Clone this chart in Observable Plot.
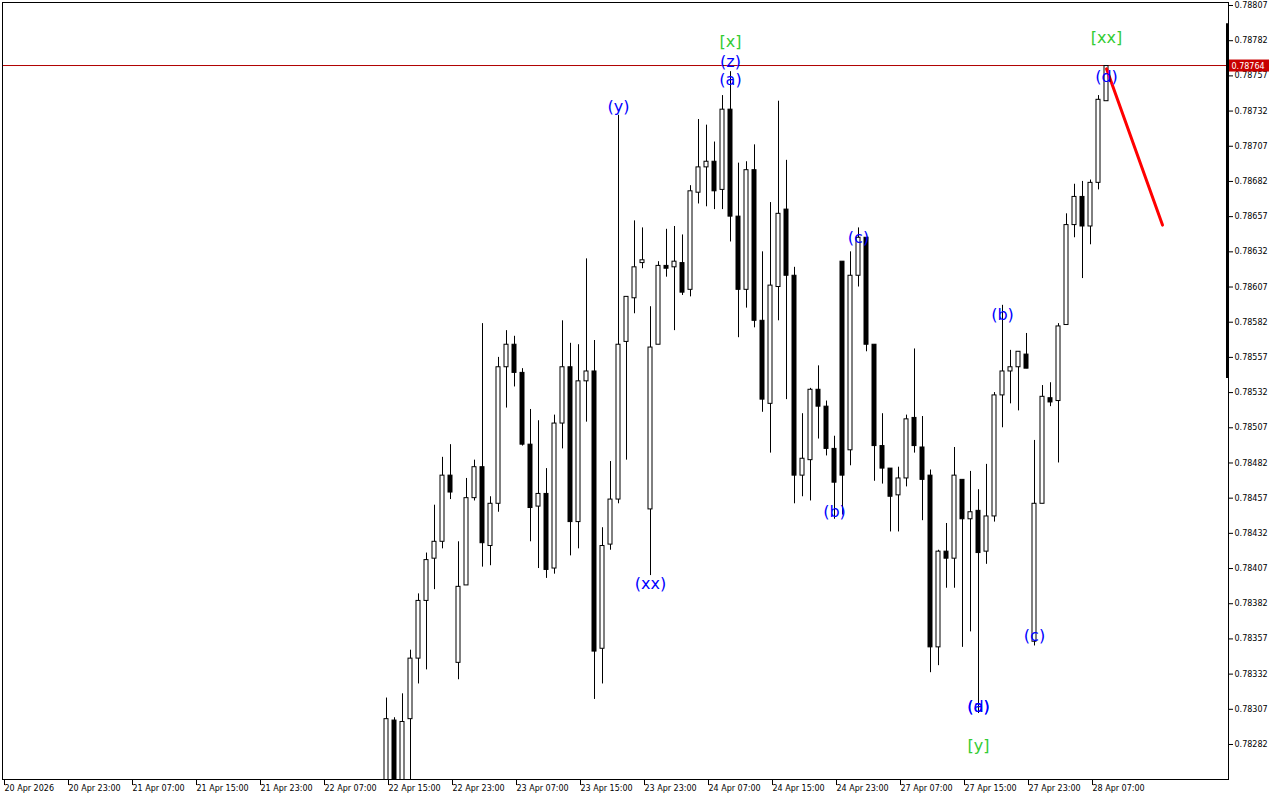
<!DOCTYPE html>
<html><head><meta charset="utf-8">
<script src="https://cdn.jsdelivr.net/npm/d3@7"></script>
<script src="https://cdn.jsdelivr.net/npm/@observablehq/plot@0.6"></script>
<style>html,body{margin:0;padding:0;background:#fff;overflow:hidden}#chart{width:1280px;height:800px}</style>
</head><body><div id="chart"></div>
<script>
// ---- data (hourly bars; bar index counted from the first x-axis label) ----
const firstBar = 48;
const open = [0.78245,0.78299,0.78244,0.78300,0.78343,0.78384,0.78414,0.78426,0.78473,0.78340,
0.78395,0.78457,0.78479,0.78423,0.78453,0.78550,0.78566,0.78546,0.78495,0.78451,
0.78460,0.78407,0.78510,0.78550,0.78440,0.78540,0.78547,0.78350,0.78424,0.78456,
0.78568,0.78599,0.78624,0.78449,0.78566,0.78622,0.78621,0.78624,0.78605,0.78674,
0.78692,0.78696,0.78676,0.78733,0.78657,0.78605,0.78690,0.78583,0.78524,0.78607,
0.78662,0.78615,0.78473,0.78484,0.78534,0.78522,0.78492,0.78625,0.78491,0.78615,
0.78642,0.78566,0.78494,0.78478,0.78459,0.78471,0.78514,0.78493,0.78473,0.78351,
0.78419,0.78414,0.78470,0.78442,0.78448,0.78419,0.78444,0.78530,0.78547,0.78550,
0.78559,0.78355,0.78453,0.78528,0.78526,0.78580,0.78651,0.78671,0.78650,0.78681,
0.78739];
const high = [0.78315,0.78301,0.78318,0.78349,0.78389,0.78418,0.78452,0.78486,0.78495,0.78426,
0.78471,0.78484,0.78581,0.78458,0.78557,0.78576,0.78572,0.78549,0.78520,0.78512,
0.78478,0.78516,0.78583,0.78567,0.78566,0.78627,0.78569,0.78436,0.78483,0.78729,
0.78600,0.78654,0.78649,0.78593,0.78625,0.78648,0.78650,0.78644,0.78679,0.78726,
0.78722,0.78710,0.78743,0.78760,0.78695,0.78696,0.78708,0.78632,0.78667,0.78739,
0.78697,0.78621,0.78517,0.78535,0.78551,0.78526,0.78501,0.78625,0.78632,0.78649,
0.78642,0.78566,0.78517,0.78478,0.78479,0.78516,0.78563,0.78515,0.78477,0.78420,
0.78439,0.78493,0.78470,0.78476,0.78463,0.78481,0.78532,0.78594,0.78562,0.78561,
0.78574,0.78498,0.78537,0.78539,0.78581,0.78659,0.78680,0.78682,0.78683,0.78743,
0.78764];
const low = [0.78238,0.78232,0.78236,0.78252,0.78325,0.78335,0.78392,0.78421,0.78456,0.78328,
0.78395,0.78455,0.78408,0.78409,0.78447,0.78521,0.78536,0.78494,0.78426,0.78407,
0.78400,0.78403,0.78492,0.78416,0.78421,0.78511,0.78314,0.78325,0.78420,0.78453,
0.78484,0.78588,0.78620,0.78402,0.78566,0.78614,0.78576,0.78601,0.78600,0.78666,
0.78664,0.78662,0.78662,0.78639,0.78571,0.78592,0.78578,0.78518,0.78489,0.78583,
0.78527,0.78453,0.78458,0.78455,0.78499,0.78487,0.78442,0.78445,0.78480,0.78607,
0.78561,0.78469,0.78467,0.78433,0.78433,0.78465,0.78489,0.78441,0.78333,0.78338,
0.78393,0.78393,0.78351,0.78362,0.78304,0.78410,0.78440,0.78507,0.78524,0.78519,
0.78549,0.78352,0.78453,0.78522,0.78482,0.78580,0.78642,0.78613,0.78637,0.78676,
0.78739];
const close = [0.78300,0.78240,0.78298,0.78343,0.78384,0.78413,0.78426,0.78473,0.78461,0.78394,
0.78457,0.78479,0.78425,0.78453,0.78550,0.78566,0.78546,0.78495,0.78450,0.78460,
0.78406,0.78510,0.78550,0.78440,0.78540,0.78547,0.78348,0.78423,0.78456,0.78566,
0.78600,0.78621,0.78626,0.78564,0.78622,0.78620,0.78625,0.78603,0.78675,0.78692,
0.78696,0.78675,0.78733,0.78657,0.78605,0.78690,0.78583,0.78527,0.78608,0.78659,
0.78615,0.78473,0.78485,0.78534,0.78522,0.78492,0.78468,0.78473,0.78615,0.78642,
0.78566,0.78494,0.78478,0.78458,0.78471,0.78513,0.78494,0.78470,0.78351,0.78419,
0.78414,0.78473,0.78442,0.78447,0.78418,0.78444,0.78530,0.78547,0.78550,0.78561,
0.78549,0.78453,0.78529,0.78525,0.78579,0.78651,0.78671,0.78650,0.78681,0.78740,
0.78764];

const xTickBars = [0,8,16,24,32,40,48,56,64,72,80,88,96,104,112,120,128,136];
const xTickLabels = ["20 Apr 2026","20 Apr 23:00","21 Apr 07:00","21 Apr 15:00","21 Apr 23:00",
"22 Apr 07:00","22 Apr 15:00","22 Apr 23:00","23 Apr 07:00","23 Apr 15:00","23 Apr 23:00",
"24 Apr 07:00","24 Apr 15:00","24 Apr 23:00","27 Apr 07:00","27 Apr 15:00","27 Apr 23:00","28 Apr 07:00"];
const yTicks = [0.78282,0.78307,0.78332,0.78357,0.78382,0.78407,0.78432,0.78457,0.78482,0.78507,
0.78532,0.78557,0.78582,0.78607,0.78632,0.78657,0.78682,0.78707,0.78732,0.78757,0.78782,0.78807];

const lastPrice = 0.78764;
const forecastBars = [138, 145];
const forecastPrices = [0.78762, 0.78651];
const scaleBarRange = [0.78542, 0.78794];

const waveText   = ["(y)","(xx)","[x]","(z)","(a)","(b)","(c)","(a)","(d)","[y]","(b)","(c)","[xx]","(d)"];
const waveBar    = [77, 81, 91, 91, 91, 104, 107, 122, 122, 122, 125, 129, 138, 138];
const wavePrice  = [0.78735,0.78396,0.78781,0.78767,0.78754,0.78447,0.78642,0.78309,0.78309,0.78281,0.78587,0.78359,0.78784,0.78756];
const waveDegree = ["minor","minor","major","minor","minor","minor","minor","minor","minor","major","minor","minor","major","minor"];

// ---- build ----
const candles = open.map((o, k) => ({i: firstBar + k, open: o, high: high[k], low: low[k], close: close[k]}));
const up = candles.filter(d => d.close >= d.open);
const down = candles.filter(d => d.close < d.open);
const waves = waveText.map((t, k) => ({t, i: waveBar[k], p: wavePrice[k], deg: waveDegree[k]}));
const forecast = forecastBars.map((b, k) => ({i: b, p: forecastPrices[k]}));

const W = 1280, H = 800, mL = 2, mR = 52, mT = 2, mB = 21;
const pxPerBar = 8;
const pxPerPrice = 35.19 / 0.00025;
const topTick = yTicks[yTicks.length - 1];
const yDomain = [topTick - (H - mB - 5) / pxPerPrice, topTick + (5 - mT) / pxPerPrice];
const xDomain = [0, (W - mL - mR) / pxPerBar];
const labelOf = new Map(xTickBars.map((b, k) => [b, xTickLabels[k]]));
const halfBody = 0.25;
// price tag box on the price scale (sizes in px converted through the scales' units)
const tag = [{x1: xDomain[1] + 1 / pxPerBar, x2: xDomain[1] + 41 / pxPerBar,
              y1: lastPrice - 6 / pxPerPrice, y2: lastPrice + 6 / pxPerPrice}];

const chart = Plot.plot({
  width: W, height: H,
  marginLeft: mL, marginRight: mR, marginTop: mT, marginBottom: mB,
  style: {fontFamily: "'DejaVu Sans', sans-serif", fontSize: "8px", background: "#fff", color: "#000"},
  x: {type: "linear", domain: xDomain, axis: null},
  y: {type: "linear", domain: yDomain, axis: null},
  marks: [
    Plot.ruleY([lastPrice], {stroke: "#b00000", strokeWidth: 1, dy: -0.5}),
    Plot.ruleX(candles, {x: "i", y1: "low", y2: "high", stroke: "#000", strokeWidth: 1, clip: true}),
    Plot.rect(up, {x1: d => d.i - halfBody, x2: d => d.i + halfBody, y1: "open", y2: "close", fill: "#fff", stroke: "#000", strokeWidth: 1, clip: true}),
    Plot.rect(down, {x1: d => d.i - halfBody, x2: d => d.i + halfBody, y1: "open", y2: "close", fill: "#000", stroke: "#000", strokeWidth: 1, clip: true}),
    Plot.line(forecast, {x: "i", y: "p", stroke: "#ff0000", strokeWidth: 3}),
    Plot.text(waves, {x: "i", y: "p", text: "t", fill: d => d.deg === "major" ? "#33cc33" : "#0000ff", fontSize: 16, fontFamily: "'DejaVu Sans', sans-serif"}),
    Plot.frame({stroke: "#000"}),
    Plot.ruleX([xDomain[1]], {y1: scaleBarRange[0], y2: scaleBarRange[1], stroke: "#000", strokeWidth: 3, dx: -1}),
    Plot.axisY(yTicks, {anchor: "right", label: null, tickSize: 4, tickPadding: 2, tickFormat: d => d.toFixed(5), fontSize: 8}),
    Plot.axisX(xTickBars, {anchor: "bottom", label: null, tickSize: 6, tickPadding: 0, tickFormat: d => labelOf.get(d), textAnchor: "start", dx: 2, fontSize: 8}),
    Plot.rect(tag, {x1: "x1", x2: "x2", y1: "y1", y2: "y2", fill: "#c80000"}),
    Plot.text([lastPrice], {x: () => xDomain[1], y: d => d, text: d => d.toFixed(5), dx: 3, textAnchor: "start", fill: "#fff", fontSize: 8})
  ]
});
document.getElementById("chart").appendChild(chart);
</script>
</body></html>
